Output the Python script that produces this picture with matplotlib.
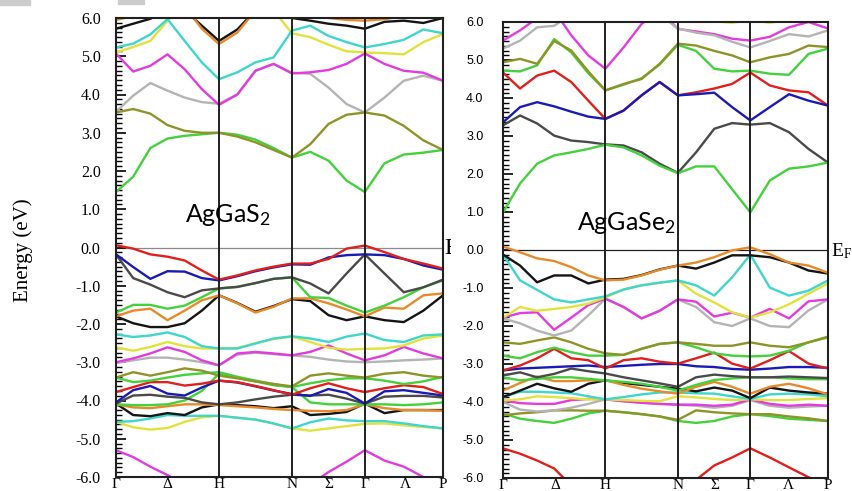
import matplotlib
matplotlib.use("Agg")
import matplotlib.pyplot as plt
from matplotlib.ticker import MultipleLocator, FormatStrFormatter
from matplotlib.patches import Rectangle
from matplotlib.transforms import Bbox, TransformedBbox

plt.rcParams['axes.unicode_minus'] = False

# k-path sample positions (fraction of path) shared by both panels
K = [0, .0525, .105, .1575, .21, .2625, .315, .371, .4265, .482, .538,
     .594, .650, .705, .761, .821, .880, .940, 1.0]
KNODES = [0, .315, .538, .761, 1.0]
KLAB_S = [0, .156, .315, .538, .65, .761, .884, 1.0]
KLAB_E = [0, .16, .315, .538, .652, .761, .877, 1.0]
KNAMES = ['\u0393', '\u0394', 'H', 'N', '\u03a3', '\u0393', '\u039b', 'P']

RED, BLUE, BLACK, DGRAY = '#e0201c', '#1a1ab4', '#141414', '#4a4a4a'
GREEN, ORANGE, CYAN, YELLOW = '#44d13c', '#e88a2a', '#3fd6cc', '#e2e23c'
MAGENTA, GRAY, OLIVE = '#e23ce0', '#b4b4b4', '#8f9428'

# ---- AgGaS2 bands (eV) ----
s_green_c = [1.45, 1.85, 2.6, 2.85, 2.92, 2.96, 3.0, 2.95, 2.82, 2.6, 2.35, 2.5, 2.27, 1.75, 1.45, 2.2, 2.43, 2.48, 2.55]
s_olive_c = [3.53, 3.62, 3.5, 3.2, 3.05, 3.0, 3.0, 2.9, 2.75, 2.55, 2.35, 2.7, 3.23, 3.47, 3.53, 3.45, 3.18, 2.8, 2.55]
s_gray_c = [3.55, 3.97, 4.3, 4.1, 3.92, 3.8, 3.76, 4.0, 4.62, 4.8, 4.57, 4.54, 4.18, 3.75, 3.53, 3.92, 4.36, 4.49, 4.36]
s_magenta_c = [5.07, 4.6, 4.75, 5.05, 4.66, 4.14, 3.73, 4.0, 4.62, 4.8, 4.55, 4.58, 4.64, 4.8, 5.07, 4.8, 4.62, 4.57, 4.36]
s_cyan_c = [5.23, 5.33, 5.57, 5.97, 5.4, 4.84, 4.4, 4.58, 4.84, 4.97, 5.67, 5.8, 5.53, 5.37, 5.23, 5.32, 5.43, 5.7, 5.6]
s_yellow_c = [5.1, 5.24, 5.4, 5.93, 6.4, 6.6, 6.6, 6.6, 6.5, 6.2, 5.6, 5.5, 5.3, 5.13, 5.1, 5.08, 5.05, 5.37, 5.58]
s_orange_c = [5.95, 6.05, 6.3, 6.4, 6.3, 5.72, 5.32, 5.62, 6.2, 6.4, 6.3, 6.1, 6.0, 5.95, 5.93, 5.97, 6.05, 6.2, 6.3]
s_black_c = [5.72, 5.85, 5.98, 6.2, 6.2, 5.8, 5.4, 5.7, 6.2, 6.3, 6.0, 5.93, 5.85, 5.8, 5.72, 5.9, 5.93, 5.87, 6.0]

s_red_v = [0.06, -0.03, -0.18, -0.24, -0.34, -0.6, -0.84, -0.73, -0.6, -0.5, -0.42, -0.42, -0.3, -0.03, 0.05, -0.12, -0.3, -0.42, -0.55]
s_blue_v = [-0.18, -0.51, -0.82, -0.62, -0.63, -0.8, -0.86, -0.75, -0.62, -0.52, -0.44, -0.45, -0.26, -0.2, -0.18, -0.2, -0.3, -0.47, -0.58]
s_dgray_v = [-0.18, -0.8, -0.97, -1.17, -1.3, -1.12, -1.07, -1.03, -0.93, -0.82, -0.78, -0.94, -1.2, -0.68, -0.18, -0.68, -1.17, -1.04, -0.84]
s_green_v = [-1.7, -1.5, -1.5, -1.6, -1.52, -1.3, -1.07, -1.03, -0.93, -0.82, -0.78, -1.3, -1.32, -1.52, -1.7, -1.52, -1.3, -1.04, -0.86]
s_orange_v = [-1.8, -1.65, -1.6, -1.9, -1.65, -1.38, -1.25, -1.46, -1.7, -1.55, -1.33, -1.33, -1.46, -1.62, -1.8, -1.57, -1.6, -1.25, -1.2]
s_black_v = [-1.8, -1.98, -2.08, -2.08, -1.98, -1.65, -1.25, -1.45, -1.68, -1.53, -1.35, -1.4, -1.77, -1.9, -1.8, -1.9, -1.95, -1.65, -1.25]
s_cyan_v = [-2.27, -2.34, -2.3, -2.22, -2.34, -2.58, -2.64, -2.64, -2.51, -2.38, -2.32, -2.38, -2.47, -2.33, -2.25, -2.42, -2.47, -2.3, -2.27]
s_yellow_v = [-2.61, -2.7, -2.6, -2.47, -2.58, -2.64, -2.64, -2.63, -2.5, -2.39, -2.33, -2.47, -2.62, -2.67, -2.65, -2.64, -2.56, -2.38, -2.3]
s_magenta_v = [-3.0, -2.9, -2.77, -2.61, -2.73, -2.95, -3.08, -2.77, -2.73, -2.77, -2.82, -2.73, -2.56, -2.77, -2.95, -2.82, -2.6, -2.77, -2.9]
s_gray_v = [-3.02, -2.95, -2.88, -2.88, -2.93, -3.0, -3.08, -2.8, -2.75, -2.79, -2.82, -2.86, -2.93, -2.98, -3.0, -2.98, -2.95, -2.93, -2.9]
s_olive_v = [-3.4, -3.26, -3.35, -3.26, -3.16, -3.22, -3.35, -3.42, -3.5, -3.57, -3.63, -3.35, -3.29, -3.35, -3.4, -3.3, -3.26, -3.35, -3.4]
s_green2_v = [-3.4, -3.52, -3.48, -3.4, -3.33, -3.29, -3.26, -3.38, -3.48, -3.57, -3.65, -3.55, -3.47, -3.42, -3.42, -3.48, -3.57, -3.5, -3.38]
s_red2_v = [-3.78, -3.65, -3.52, -3.52, -3.61, -3.56, -3.48, -3.52, -3.62, -3.73, -3.85, -3.68, -3.55, -3.68, -3.78, -3.68, -3.6, -3.65, -3.83]
s_blue2_v = [-4.05, -3.73, -3.62, -3.82, -3.87, -3.66, -3.48, -3.53, -3.63, -3.74, -3.83, -3.88, -3.7, -3.8, -4.08, -3.76, -3.73, -3.8, -3.87]
s_black2_v = [-4.08, -3.87, -3.85, -3.9, -3.93, -4.05, -4.1, -4.05, -3.97, -3.9, -3.85, -3.87, -3.85, -3.95, -4.08, -3.9, -3.88, -3.88, -3.92]
s_green3_v = [-4.1, -4.12, -4.12, -4.1, -4.0, -3.75, -3.3, -3.4, -3.5, -3.6, -3.65, -4.05, -4.1, -4.1, -4.1, -4.1, -4.12, -4.1, -4.05]
s_orange2_v = [-4.1, -4.18, -4.2, -4.15, -4.1, -4.1, -4.12, -4.15, -4.18, -4.22, -4.25, -4.27, -4.28, -4.25, -4.1, -4.2, -4.25, -4.25, -4.27]
s_black3_v = [-4.08, -4.38, -4.41, -4.33, -4.38, -4.18, -4.1, -4.12, -4.15, -4.2, -4.15, -4.38, -4.35, -4.3, -4.08, -4.33, -4.25, -4.25, -4.25]
s_cyan2_v = [-4.56, -4.54, -4.47, -4.38, -4.4, -4.4, -4.4, -4.45, -4.5, -4.6, -4.73, -4.57, -4.47, -4.52, -4.54, -4.54, -4.6, -4.67, -4.73]
s_yellow2_v = [-4.56, -4.7, -4.76, -4.72, -4.56, -4.44, -4.4, -4.45, -4.5, -4.6, -4.73, -4.79, -4.73, -4.67, -4.61, -4.6, -4.65, -4.69, -4.73]
s_magenta2_v = [-5.3, -5.48, -5.73, -5.95, -6.2, -6.5, -6.7, -6.8, -6.8, -6.6, -6.4, -6.2, -5.87, -5.6, -5.3, -5.57, -5.73, -6.0, -6.2]

# ---- AgGaSe2 bands (eV) ----
e_green_c = [0.99, 1.75, 2.27, 2.49, 2.57, 2.66, 2.77, 2.7, 2.49, 2.22, 2.02, 2.2, 2.2, 1.6, 0.99, 1.83, 2.14, 2.2, 2.3]
e_black_c = [3.28, 3.54, 3.33, 3.01, 2.88, 2.84, 2.78, 2.75, 2.57, 2.27, 2.03, 2.57, 3.19, 3.34, 3.3, 3.34, 3.1, 2.66, 2.3]
e_blue_c = [3.36, 3.76, 3.89, 3.78, 3.64, 3.51, 3.45, 3.67, 4.07, 4.42, 4.07, 4.1, 4.14, 3.76, 3.41, 3.76, 4.1, 3.93, 3.8]
e_red_c = [4.67, 4.25, 4.59, 4.72, 4.42, 3.93, 3.45, 3.67, 4.07, 4.42, 4.07, 4.15, 4.25, 4.37, 4.67, 4.33, 4.2, 4.15, 3.8]
e_olive_c = [4.94, 5.03, 4.9, 5.5, 5.25, 4.7, 4.2, 4.37, 4.5, 4.9, 5.43, 5.38, 5.24, 5.12, 4.94, 5.07, 5.16, 5.38, 5.34]
e_green2_c = [4.72, 4.7, 4.86, 5.55, 5.2, 4.65, 4.2, 4.35, 4.52, 4.88, 5.4, 5.24, 4.77, 4.7, 4.72, 4.64, 4.61, 5.16, 5.3]
e_gray_c = [5.3, 5.51, 5.86, 5.9, 6.2, 6.4, 6.5, 6.5, 6.4, 6.2, 5.83, 5.72, 5.65, 5.48, 5.33, 5.5, 5.68, 5.62, 5.78]
e_magenta_c = [5.51, 5.78, 6.1, 6.3, 5.65, 5.12, 4.77, 5.33, 5.95, 6.3, 5.82, 5.75, 5.68, 5.56, 5.51, 5.61, 5.86, 6.0, 5.83]
e_yellow_c = [6.6, 6.6, 6.6, 6.6, 6.6, 6.6, 6.6, 6.6, 6.6, 6.5, 6.3, 6.15, 6.02, 5.98, 6.05, 5.98, 6.05, 6.2, 6.4]

e_orange_v = [0.09, -0.06, -0.22, -0.29, -0.45, -0.67, -0.8, -0.78, -0.67, -0.52, -0.41, -0.33, -0.19, -0.01, 0.07, -0.11, -0.33, -0.41, -0.6]
e_black_v = [-0.12, -0.41, -0.85, -0.67, -0.67, -0.88, -0.78, -0.76, -0.66, -0.51, -0.41, -0.49, -0.33, -0.14, -0.14, -0.19, -0.33, -0.54, -0.62]
e_cyan_v = [-0.12, -0.8, -1.05, -1.3, -1.38, -1.3, -1.22, -1.04, -0.93, -0.86, -0.8, -0.93, -1.2, -0.72, -0.12, -0.99, -1.2, -1.07, -0.8]
e_yellow_v = [-1.78, -1.5, -1.6, -1.55, -1.5, -1.41, -1.25, -1.04, -0.93, -0.86, -0.8, -1.15, -1.38, -1.64, -1.78, -1.64, -1.43, -1.15, -0.88]
e_magenta_v = [-1.78, -1.66, -1.64, -2.1, -1.78, -1.45, -1.28, -1.5, -1.8, -1.6, -1.3, -1.36, -1.75, -1.65, -1.78, -1.55, -1.8, -1.35, -1.3]
e_gray_v = [-1.8, -1.93, -2.12, -2.25, -2.12, -1.72, -1.28, -1.5, -1.8, -1.6, -1.3, -1.5, -1.9, -2.0, -1.8, -2.0, -2.03, -1.59, -1.3]
e_olive_v = [-2.43, -2.47, -2.38, -2.3, -2.43, -2.6, -2.72, -2.76, -2.6, -2.47, -2.43, -2.47, -2.52, -2.52, -2.43, -2.52, -2.56, -2.43, -2.28]
e_green_v = [-2.78, -2.85, -2.69, -2.57, -2.69, -2.78, -2.78, -2.76, -2.6, -2.47, -2.43, -2.56, -2.72, -2.78, -2.8, -2.78, -2.65, -2.43, -2.3]
e_red_v = [-3.17, -3.04, -2.85, -2.6, -2.85, -2.9, -3.12, -2.9, -2.85, -2.94, -2.99, -2.85, -2.7, -2.99, -3.12, -2.9, -2.66, -2.99, -3.12]
e_blue_v = [-3.17, -3.12, -3.1, -3.08, -3.06, -3.04, -3.08, -3.05, -3.02, -3.0, -3.0, -3.06, -3.08, -3.13, -3.15, -3.12, -3.08, -3.08, -3.1]
e_dgray_v = [-3.3, -3.22, -3.35, -3.26, -3.12, -3.19, -3.25, -3.35, -3.43, -3.51, -3.6, -3.35, -3.28, -3.32, -3.35, -3.35, -3.33, -3.35, -3.37]
e_green2_v = [-3.35, -3.43, -3.39, -3.35, -3.35, -3.39, -3.43, -3.47, -3.52, -3.6, -3.7, -3.55, -3.42, -3.38, -3.35, -3.35, -3.38, -3.4, -3.4]
e_orange2_v = [-3.7, -3.5, -3.33, -3.45, -3.45, -3.43, -3.43, -3.55, -3.65, -3.72, -3.78, -3.6, -3.47, -3.6, -3.78, -3.6, -3.52, -3.64, -3.8]
e_black2_v = [-3.87, -3.7, -3.52, -3.64, -3.73, -3.52, -3.43, -3.5, -3.55, -3.6, -3.65, -3.72, -3.62, -3.7, -3.9, -3.62, -3.7, -3.75, -3.78]
e_cyan2_v = [-3.87, -3.73, -3.73, -3.75, -3.77, -3.85, -3.93, -3.87, -3.8, -3.75, -3.75, -3.77, -3.78, -3.85, -3.92, -3.8, -3.78, -3.8, -3.85]
e_yellow2_v = [-3.96, -3.93, -3.85, -3.87, -3.9, -3.93, -3.93, -3.95, -3.97, -3.98, -3.85, -3.88, -3.92, -3.95, -3.93, -3.95, -3.95, -3.92, -3.9]
e_magenta2_v = [-3.96, -4.03, -4.05, -4.05, -3.95, -3.92, -3.93, -3.98, -4.02, -4.05, -4.07, -4.07, -4.1, -4.07, -3.93, -4.05, -4.1, -4.07, -4.1]
e_gray2_v = [-4.0, -4.2, -4.25, -4.22, -4.15, -4.05, -3.93, -3.98, -4.02, -4.05, -4.07, -4.1, -4.15, -4.1, -3.95, -4.1, -4.15, -4.12, -4.1]
e_olive2_v = [-4.35, -4.3, -4.27, -4.22, -4.22, -4.23, -4.23, -4.27, -4.32, -4.38, -4.47, -4.22, -4.27, -4.3, -4.32, -4.32, -4.38, -4.43, -4.5]
e_green3_v = [-4.3, -4.44, -4.5, -4.55, -4.44, -4.3, -4.23, -4.27, -4.32, -4.38, -4.5, -4.55, -4.5, -4.38, -4.32, -4.37, -4.44, -4.47, -4.5]
e_red2_v = [-5.22, -5.36, -5.54, -5.75, -6.2, -6.5, -6.7, -6.8, -6.8, -6.6, -6.4, -6.05, -5.67, -5.46, -5.22, -5.46, -5.72, -5.98, -6.2]

bands_s = [
    (s_black_c, BLACK), (s_orange_c, ORANGE), (s_yellow_c, YELLOW), (s_cyan_c, CYAN),
    (s_gray_c, GRAY), (s_magenta_c, MAGENTA), (s_green_c, GREEN), (s_olive_c, OLIVE),
    (s_magenta2_v, MAGENTA), (s_yellow2_v, YELLOW), (s_cyan2_v, CYAN), (s_black3_v, BLACK),
    (s_orange2_v, ORANGE), (s_green3_v, GREEN), (s_black2_v, DGRAY), (s_blue2_v, BLUE),
    (s_red2_v, RED), (s_green2_v, GREEN), (s_olive_v, OLIVE), (s_gray_v, GRAY),
    (s_magenta_v, MAGENTA), (s_yellow_v, YELLOW), (s_cyan_v, CYAN), (s_black_v, BLACK),
    (s_orange_v, ORANGE), (s_green_v, GREEN), (s_dgray_v, DGRAY), (s_blue_v, BLUE),
    (s_red_v, RED),
]
bands_e = [
    (e_yellow_c, YELLOW), (e_magenta_c, MAGENTA), (e_gray_c, GRAY), (e_green2_c, GREEN),
    (e_olive_c, OLIVE), (e_red_c, RED), (e_blue_c, BLUE), (e_black_c, DGRAY),
    (e_green_c, GREEN),
    (e_red2_v, RED), (e_green3_v, GREEN), (e_olive2_v, OLIVE), (e_gray2_v, GRAY),
    (e_magenta2_v, MAGENTA), (e_yellow2_v, YELLOW), (e_cyan2_v, CYAN), (e_black2_v, BLACK),
    (e_orange2_v, ORANGE), (e_green2_v, GREEN), (e_dgray_v, DGRAY), (e_blue_v, BLUE),
    (e_red_v, RED), (e_green_v, GREEN), (e_olive_v, OLIVE), (e_gray_v, GRAY),
    (e_magenta_v, MAGENTA), (e_yellow_v, YELLOW), (e_cyan_v, CYAN), (e_black_v, BLACK),
    (e_orange_v, ORANGE),
]

fig = plt.figure(figsize=(8.52, 4.91), dpi=100)
W, H = 852, 491


def px_axes(x0, y0, x1, y1):
    return fig.add_axes([x0 / W, 1 - y1 / H, (x1 - x0) / W, (y1 - y0) / H])


def setup(ax, bands, klab, tickfont, ticksize, pad, efcolor):
    for vals, col in bands:
        ax.plot(K, vals, color=col, lw=1.7, solid_capstyle='round', zorder=2)
    for kn in KNODES[1:-1]:
        ax.axvline(kn, color='#202020', lw=1.4, zorder=3)
    ax.axhline(0, color=efcolor, lw=0.9, zorder=1)
    ax.set_xlim(0, 1)
    ax.set_ylim(-6, 6)
    ax.yaxis.set_major_locator(MultipleLocator(1))
    ax.yaxis.set_minor_locator(MultipleLocator(0.125))
    ax.yaxis.set_major_formatter(FormatStrFormatter('%.1f'))
    ax.tick_params(axis='y', which='major', direction='in', length=7, width=1.2,
                   pad=pad, labelsize=ticksize)
    ax.tick_params(axis='y', which='minor', direction='in', length=4, width=1.0)
    for lab in ax.get_yticklabels():
        lab.set_family(tickfont)
    ax.set_xticks(klab)
    ax.set_xticklabels(KNAMES, family='Liberation Serif', fontsize=11)
    ax.tick_params(axis='x', length=0, pad=1)
    for sp in ax.spines.values():
        sp.set_linewidth(1.5)
        sp.set_color('#202020')


ax1 = px_axes(116, 18, 443, 477)
setup(ax1, bands_s, KLAB_S, 'Liberation Serif', 11.5, 11, '#8a8a8a')
ax1.text(0.343, 0.84, 'AgGa$\\mathregular{S_2}$', family='Lato', fontsize=18,
         ha='center', va='center', zorder=5)

ax2 = px_axes(503, 22, 828, 478)
setup(ax2, bands_e, KLAB_E, 'Liberation Sans', 9, 14, '#202020')
ax2.text(0.38, 0.72, 'AgGa$\\mathregular{Se_2}$', family='Lato', fontsize=18,
         ha='center', va='center', zorder=5)

fig.text(831 / W, 1 - 251 / H, '$\\mathregular{E_F}$', family='Liberation Serif',
         fontsize=14, ha='left', va='center')
t = fig.text(444 / W, 1 - 249 / H, 'E', family='Liberation Serif', fontsize=17,
             ha='left', va='center')
t.set_clip_box(TransformedBbox(Bbox([[444 / W, 0], [451 / W, 1]]), fig.transFigure))
t.set_clip_on(True)

fig.text(23 / W, 1 - 250 / H, 'Energy (eV)', family='Liberation Serif', fontsize=15,
         rotation=90, ha='center', va='center')

# faint grey scraps along the top edge of the source image
fig.patches.append(Rectangle((0, 1 - 5 / H), 30 / W, 5 / H, transform=fig.transFigure,
                             color='#cccccc', zorder=0))
fig.patches.append(Rectangle((118 / W, 1 - 4 / H), 26 / W, 4 / H, transform=fig.transFigure,
                             color='#cccccc', zorder=0))

fig.savefig('out.png', dpi=100)
